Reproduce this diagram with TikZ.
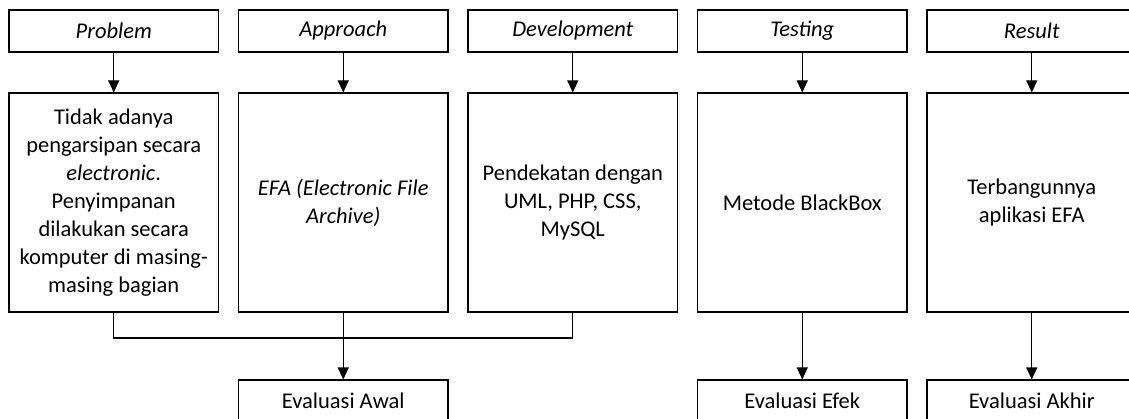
\documentclass[tikz,border=0pt]{standalone}
\usepackage{fontspec}
\setmainfont{Carlito}
\usetikzlibrary{arrows.meta}
\begin{document}
\begin{tikzpicture}[x=1pt,y=-1pt,
  box/.style={draw, line width=1.1pt, minimum width=209.5pt, inner sep=0pt,
    align=center, font=\fontsize{22.5}{28}\selectfont},
  headbox/.style={box, minimum height=42pt},
  bodybox/.style={box, minimum height=219pt},
  evalbox/.style={box, minimum height=42pt},
  arr/.style={line width=1.1pt, -{Triangle[length=12pt,width=11pt]}},
  link/.style={line width=1.1pt}]
\useasboundingbox (0,0) rectangle (1129,419);

% stage headings
\node[headbox] (h1) at (113.75,31) {\itshape Problem};
\node[headbox] (h2) at (343.25,31) {\itshape Approach};
\node[headbox] (h3) at (572.75,31) {\itshape Development};
\node[headbox] (h4) at (802.25,31) {\itshape Testing};
\node[headbox] (h5) at (1031.75,31) {\itshape Result};

% stage contents
\node[bodybox] (b1) at (113.75,202.5) {Tidak adanya\\pengarsipan secara\\\textit{electronic}.\\Penyimpanan\\dilakukan secara\\komputer di masing-\\masing bagian};
\node[bodybox] (b2) at (343.25,202.5) {\itshape EFA (Electronic File\\\itshape Archive)};
\node[bodybox] (b3) at (572.75,202.5) {Pendekatan dengan\\UML, PHP, CSS,\\MySQL};
\node[bodybox] (b4) at (802.25,202.5) {Metode BlackBox};
\node[bodybox] (b5) at (1031.75,202.5) {Terbangunnya\\aplikasi EFA};

% evaluations
\node[evalbox] (e1) at (343.25,401) {Evaluasi Awal};
\node[evalbox] (e2) at (802.25,401) {Evaluasi Efek};
\node[evalbox] (e3) at (1031.75,401) {Evaluasi Akhir};

% heading to content
\foreach \i in {1,...,5} \draw[arr] (h\i.south) -- (b\i.north);

% first three stages merge into the initial evaluation
\draw[link] (b1.south) -- ++(0,25.5) -| (b3.south);
\draw[arr] (b2.south) -- (e1.north);
\draw[arr] (b4.south) -- (e2.north);
\draw[arr] (b5.south) -- (e3.north);
\end{tikzpicture}
\end{document}
